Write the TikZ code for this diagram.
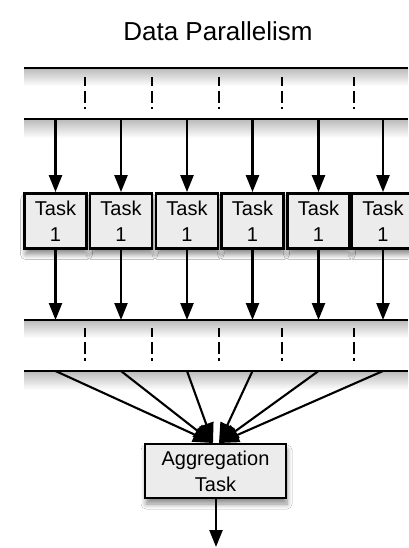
\documentclass[tikz,border=0pt]{standalone}
\usepackage{fontspec}
\setmainfont{Liberation Sans}
\usetikzlibrary{arrows.meta,shadows.blur}
\begin{document}
\begin{tikzpicture}[x=1pt,y=-1pt,
  band/.style={line width=2.8pt},
  sepline/.style={line width=2.3pt, dash pattern=on 9pt off 5pt on 12pt off 4pt on 2.5pt off 100pt},
  taskbox/.style={draw, line width=2.8pt, fill=gray!15, minimum width=62pt, minimum height=55pt,
     align=center, inner sep=0pt, font=\fontsize{20}{26}\selectfont,
     blur shadow={shadow blur steps=6, shadow xshift=1pt, shadow yshift=-6pt, shadow opacity=45, shadow blur radius=5pt}},
  flow/.style={line width=2.4pt, -{Triangle[length=17pt,width=13pt]}},
  fan/.style={line width=2.1pt, -{Triangle[length=20pt,width=15pt]}},
  bandshade/.style={top color=gray!50, bottom color=white, draw=none}]
\useasboundingbox (0,0) rectangle (408,548);
\fill[white] (0,0) rectangle (408,548);
% title
\node[font=\fontsize{26}{30}\selectfont] (title) at (218,31) {Data Parallelism};
% band shadows
\shade[bandshade] (24,69.5) rectangle (408,86);
\shade[bandshade] (24,120.5) rectangle (408,138);
\shade[bandshade] (24,321.5) rectangle (408,338);
\shade[bandshade] (24,372.5) rectangle (408,390);
% bands
\draw[band] (24,68) -- (408,68);
\draw[band] (24,119) -- (408,119);
\draw[band] (24,320) -- (408,320);
\draw[band] (24,371) -- (408,371);
% separators
\foreach \x in {85,152,219,282,354}{
  \draw[sepline] (\x,77) -- (\x,112);
  \draw[sepline] (\x,328) -- (\x,365);
}
% tasks
\foreach \i/\x in {1/55.5,2/121,3/187,4/252.5,5/318.5,6/383}{
  \coordinate (t\i) at (\x,119);
  \coordinate (b\i) at (\x,320);
  \coordinate (f\i) at (\x,371);
  \node[taskbox] (task\i) at (\x,221) {Task\\1};
  \draw[flow] (t\i) -- (task\i.north);
  \draw[flow] (task\i.south) -- (b\i);
}
% aggregation
\node[taskbox, minimum width=141pt, minimum height=54pt] (agg) at (215.5,471) {Aggregation\\Task};
\coordinate (inl) at (213,443);
\coordinate (inr) at (219,443);
\draw[fan] (f1) -- (inl);
\draw[fan] (f2) -- (inl);
\draw[fan] (f3) -- (inl);
\draw[fan] (f4) -- (inr);
\draw[fan] (f5) -- (inr);
\draw[fan] (f6) -- (inr);
\coordinate (out) at (216,547);
\draw[flow] (agg.south -| out) -- (out);
\end{tikzpicture}
\end{document}
